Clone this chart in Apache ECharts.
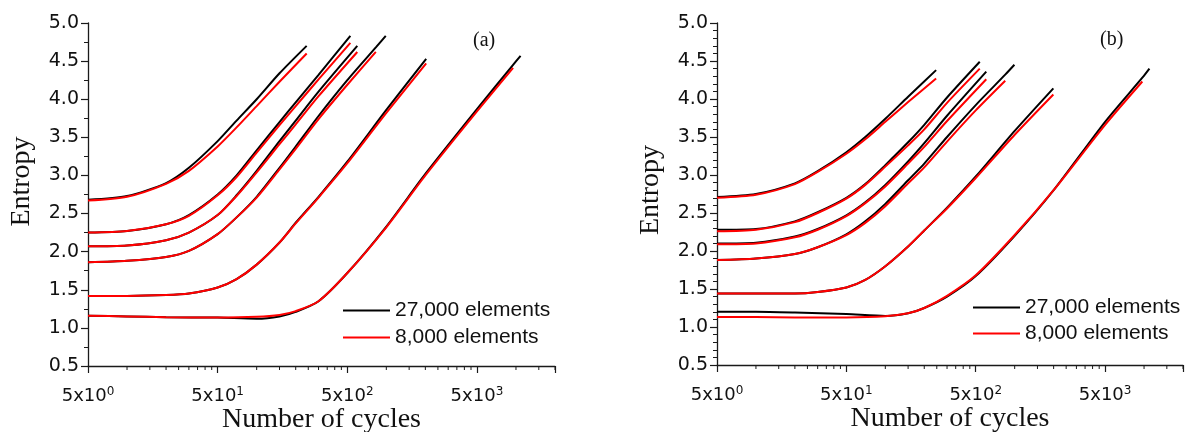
<!DOCTYPE html>
<html>
<head>
<meta charset="utf-8">
<script src="https://cdn.jsdelivr.net/npm/echarts@6/dist/echarts.min.js"></script>
<style>
html,body{margin:0;padding:0;background:#fff;}
#chart{width:1193px;height:432px;}
</style>
</head>
<body>
<div id="chart"></div>
<script>
// ---------- DATA ----------
const panelLabels = ['(a)', '(b)'];
const seriesNames = ['27,000 elements', '8,000 elements'];
const xAxisTitle = 'Number of cycles';
const yAxisTitle = 'Entropy';

// Panel (a)
const a1Cycles = [5, 10, 20, 30, 50, 70, 100, 150, 243];
const a1E27k   = [2.68, 2.73, 2.90, 3.10, 3.45, 3.72, 4.00, 4.34, 4.70];
const a1E8k    = [2.67, 2.72, 2.89, 3.06, 3.38, 3.63, 3.91, 4.23, 4.60];

const a2Cycles = [5, 10, 20, 30, 50, 70, 100, 150, 200, 300, 528];
const a2E27k   = [2.25, 2.27, 2.36, 2.48, 2.75, 3.00, 3.33, 3.70, 3.96, 4.32, 4.83];
const a2E8k    = [2.25, 2.27, 2.36, 2.47, 2.74, 2.98, 3.30, 3.66, 3.91, 4.26, 4.74];

const a3Cycles = [5, 10, 20, 30, 50, 70, 100, 150, 200, 300, 597];
const a3E27k   = [2.07, 2.08, 2.15, 2.25, 2.48, 2.74, 3.06, 3.45, 3.72, 4.10, 4.70];
const a3E8k    = [2.07, 2.08, 2.15, 2.25, 2.48, 2.73, 3.04, 3.41, 3.67, 4.04, 4.62];

const a4Cycles = [5, 10, 20, 30, 50, 70, 100, 150, 200, 300, 500, 830, 990];
const a4E27k   = [1.86, 1.88, 1.93, 2.01, 2.23, 2.45, 2.72, 3.10, 3.38, 3.78, 4.25, 4.68, 4.83];
const a4E8k    = [1.86, 1.88, 1.93, 2.01, 2.23, 2.45, 2.71, 3.08, 3.35, 3.74, 4.19, 4.62];

const a5Cycles = [5, 10, 20, 30, 50, 70, 100, 150, 200, 300, 500, 1000, 2030];
const a5E27k   = [1.42, 1.42, 1.43, 1.45, 1.53, 1.64, 1.83, 2.12, 2.38, 2.72, 3.18, 3.86, 4.53];
const a5E8k    = [1.42, 1.42, 1.43, 1.45, 1.53, 1.64, 1.83, 2.12, 2.37, 2.71, 3.16, 3.82, 4.47];

const a6Cycles = [5, 10, 20, 50, 100, 150, 200, 300, 500, 1000, 2000, 5000, 9500, 10850];
const a6E27k   = [1.16, 1.15, 1.14, 1.135, 1.12, 1.15, 1.21, 1.35, 1.72, 2.33, 3.02, 3.87, 4.45, 4.57];
const a6E8k    = [1.16, 1.15, 1.14, 1.135, 1.145, 1.17, 1.22, 1.35, 1.72, 2.32, 3.00, 3.84, 4.41];

// Panel (b)
const b1Cycles = [5, 10, 20, 30, 50, 70, 100, 150, 247];
const b1E27k   = [2.71, 2.75, 2.89, 3.05, 3.30, 3.50, 3.74, 4.03, 4.38];
const b1E8k    = [2.70, 2.74, 2.88, 3.04, 3.28, 3.47, 3.70, 3.96, 4.27];

const b2Cycles = [5, 10, 20, 30, 50, 70, 100, 150, 200, 300, 537];
const b2E27k   = [2.28, 2.29, 2.39, 2.51, 2.70, 2.88, 3.13, 3.43, 3.66, 4.02, 4.49];
const b2E8k    = [2.26, 2.28, 2.38, 2.50, 2.69, 2.87, 3.11, 3.39, 3.60, 3.95, 4.40];

const b3Cycles = [5, 10, 20, 30, 50, 70, 100, 150, 200, 300, 603];
const b3E27k   = [2.10, 2.11, 2.19, 2.29, 2.47, 2.64, 2.87, 3.18, 3.42, 3.78, 4.36];
const b3E8k    = [2.09, 2.10, 2.18, 2.28, 2.46, 2.63, 2.85, 3.15, 3.37, 3.71, 4.26];

const b4Cycles = [5, 10, 20, 30, 50, 70, 100, 150, 200, 300, 500, 845, 995];
const b4E27k   = [1.88, 1.90, 1.96, 2.05, 2.22, 2.39, 2.62, 2.93, 3.15, 3.50, 3.92, 4.32, 4.45];
const b4E8k    = [1.88, 1.90, 1.96, 2.05, 2.21, 2.37, 2.59, 2.89, 3.10, 3.44, 3.85, 4.24];

const b5Cycles = [5, 10, 20, 30, 50, 70, 100, 150, 200, 300, 500, 1000, 1990];
const b5E27k   = [1.44, 1.44, 1.44, 1.46, 1.52, 1.62, 1.80, 2.06, 2.27, 2.57, 2.98, 3.58, 4.14];
const b5E8k    = [1.44, 1.44, 1.44, 1.46, 1.52, 1.62, 1.80, 2.06, 2.27, 2.56, 2.96, 3.53, 4.06];

const b6Cycles = [5, 10, 20, 50, 100, 150, 200, 300, 500, 1000, 2000, 5000, 9700, 11000];
const b6E27k   = [1.20, 1.20, 1.19, 1.17, 1.145, 1.18, 1.25, 1.40, 1.67, 2.20, 2.80, 3.70, 4.28, 4.40];
const b6E8k    = [1.13, 1.13, 1.125, 1.125, 1.14, 1.18, 1.25, 1.41, 1.68, 2.21, 2.80, 3.66, 4.23];

// Axis ranges / ticks
const xMin = 5, xMax = 20000;          // cycles
const xTickBase = 5;                    // major ticks at 5 x 10^n
const xMinorTicks = [10, 15, 20, 25, 30, 35, 40, 45,
                     100, 150, 200, 250, 300, 350, 400, 450,
                     1000, 1500, 2000, 2500, 3000, 3500, 4000, 4500,
                     10000, 15000, 20000];
const yMin = 0.5, yMax = 5.0, yStep = 0.5;
const yMinorStep = [0.25, 0.1];        // panel (a), panel (b)

// ---------- BUILD ----------
const panels = [
  [[a1Cycles, a1E27k, a1E8k], [a2Cycles, a2E27k, a2E8k], [a3Cycles, a3E27k, a3E8k],
   [a4Cycles, a4E27k, a4E8k], [a5Cycles, a5E27k, a5E8k], [a6Cycles, a6E27k, a6E8k]],
  [[b1Cycles, b1E27k, b1E8k], [b2Cycles, b2E27k, b2E8k], [b3Cycles, b3E27k, b3E8k],
   [b4Cycles, b4E27k, b4E8k], [b5Cycles, b5E27k, b5E8k], [b6Cycles, b6E27k, b6E8k]]
];
const colors = ['#000000', '#ff0000'];
const axisColor = '#1a1a1a';

const grids = [
  {left: 88, top: 23, width: 467, height: 343, containLabel: false, outerBoundsMode: 'none'},
  {left: 717, top: 23, width: 466, height: 342, containLabel: false, outerBoundsMode: 'none'}
];

const series = [];
[0, 1].forEach(function (k) {           // black (27k) first, red (8k) drawn on top
  panels.forEach(function (curves, p) {
    curves.forEach(function (c) {
      const cyc = c[0], vals = c[1 + k];
      series.push({
        type: 'line',
        name: seriesNames[k],
        xAxisIndex: p * 2,
        yAxisIndex: p * 2,
        data: vals.map(function (v, i) { return [cyc[i], v]; }),
        showSymbol: false,
        symbol: 'none',
        smooth: 0.25,
        lineStyle: {color: colors[k], width: 2},
        itemStyle: {color: colors[k]},
        emphasis: {disabled: true},
        silent: true,
        z: 2 + k
      });
    });
  });
});

// minor x ticks (drawn through the data axis scale)
[0, 1].forEach(function (p) {
  series.push({
    type: 'custom',
    name: 'xMinorTicks' + p,
    xAxisIndex: p * 2,
    yAxisIndex: p * 2,
    clip: false,
    silent: true,
    data: xMinorTicks.map(function (v) { return [v, yMin]; }),
    renderItem: function (params, api) {
      const pt = api.coord([api.value(0), api.value(1)]);
      return {
        type: 'line',
        shape: {x1: pt[0], y1: pt[1], x2: pt[0], y2: pt[1] + 4},
        style: {stroke: axisColor, lineWidth: 1}
      };
    },
    z: 5
  });
});

const xAxes = [], yAxes = [];
const nameGapX = [40, 40];
const entropyShift = [13, 4];
[0, 1].forEach(function (p) {
  // data axis (real cycles)
  xAxes.push({
    type: 'log', logBase: 10, gridIndex: p, min: xMin, max: xMax, position: 'bottom',
    axisLine: {show: true, lineStyle: {color: axisColor, width: 1.3}},
    axisTick: {show: false}, axisLabel: {show: false}, splitLine: {show: false},
    name: xAxisTitle, nameLocation: 'middle', nameGap: nameGapX[p],
    nameTextStyle: {fontFamily: 'Liberation Serif', fontSize: 28, color: '#111'}
  });
  // tick/label axis: same span in units of 5 cycles -> major ticks at 5x10^n
  xAxes.push({
    type: 'log', logBase: 10, gridIndex: p, min: xMin / xTickBase, max: xMax / xTickBase,
    position: 'bottom', offset: 0,
    axisLine: {show: false},
    axisTick: {show: true, length: 7, lineStyle: {color: axisColor, width: 1.2}},
    splitLine: {show: false},
    axisLabel: {
      margin: 20, color: '#111', fontFamily: 'DejaVu Sans', fontSize: 18,
      formatter: function (v) {
        const e = Math.log10(v);
        const n = Math.round(e);
        if (Math.abs(e - n) > 1e-6) return '';
        return xTickBase + 'x10{s|' + n + '}';
      },
      rich: {s: {fontSize: 12, fontFamily: 'DejaVu Sans', color: '#111', padding: [0, 0, 9, 0]}}
    }
  });
  yAxes.push({
    type: 'value', gridIndex: p, min: yMin, max: yMax, interval: yStep, position: 'left',
    axisLine: {show: true, lineStyle: {color: axisColor, width: 1.3}},
    axisTick: {show: true, length: 7, lineStyle: {color: axisColor, width: 1.2}},
    splitLine: {show: false},
    axisLabel: {
      margin: 9, color: '#111', fontFamily: 'DejaVu Sans', fontSize: 19,
      formatter: function (v) { return v.toFixed(1); }
    },
    name: yAxisTitle, nameLocation: 'middle', nameGap: 52,
    nameTextStyle: {fontFamily: 'Liberation Serif', fontSize: 28, color: '#111',
                    padding: [0, 0, 0, entropyShift[p] * 2]}
  });
  // minor y ticks
  yAxes.push({
    type: 'value', gridIndex: p, min: yMin, max: yMax, interval: yMinorStep[p],
    position: 'left', offset: 0,
    axisLine: {show: false},
    axisTick: {show: true, length: 4, lineStyle: {color: axisColor, width: 1}},
    axisLabel: {show: false}, splitLine: {show: false}
  });
});

const legends = [
  {left: 343, top: 300, gap: 6},
  {left: 973, top: 297, gap: 5}
].map(function (pos) {
  return {
    left: pos.left, top: pos.top, orient: 'vertical', padding: 0,
    data: seriesNames, icon: 'rect', itemWidth: 47, itemHeight: 2, itemGap: pos.gap,
    selectedMode: false,
    textStyle: {fontFamily: 'Liberation Sans', fontSize: 21, color: '#111'}
  };
});

const option = {
  animation: false,
  backgroundColor: '#ffffff',
  grid: grids,
  xAxis: xAxes,
  yAxis: yAxes,
  legend: legends,
  graphic: [
    {type: 'text', left: 473, top: 31, style: {text: panelLabels[0], font: '20px "Liberation Serif"', fill: '#111'}},
    {type: 'text', left: 1100, top: 30, style: {text: panelLabels[1], font: '20px "Liberation Serif"', fill: '#111'}}
  ],
  series: series
};

const chart = echarts.init(document.getElementById('chart'), null, {renderer: 'canvas'});
chart.setOption(option);
</script>
</body>
</html>
